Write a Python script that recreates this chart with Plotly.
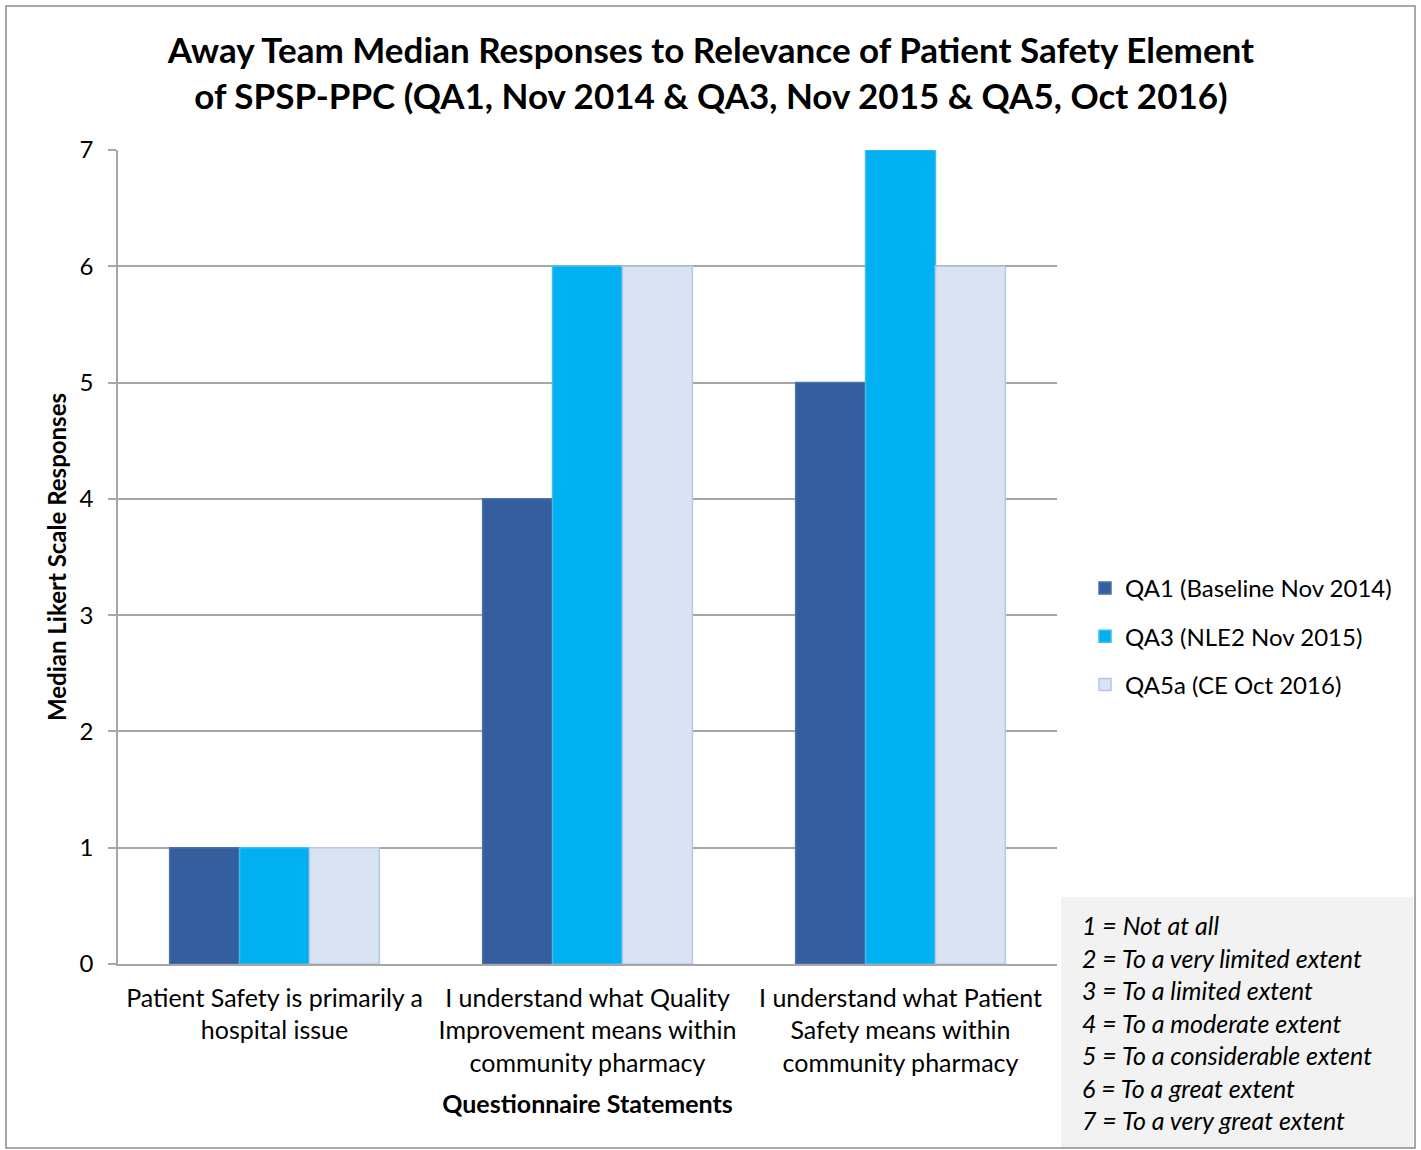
import plotly.graph_objects as go

categories = [
    "Patient Safety is primarily a<br>hospital issue",
    "I understand what Quality<br>Improvement means within<br>community pharmacy",
    "I understand what Patient<br>Safety means within<br>community pharmacy",
]
series_names = ["QA1 (Baseline Nov 2014)", "QA3 (NLE2 Nov 2015)", "QA5a (CE Oct 2016)"]
qa1 = [1, 4, 5]
qa3 = [1, 6, 7]
qa5a = [1, 6, 6]
scale_labels = [
    "1 = Not at all",
    "2 = To a very limited extent",
    "3 = To a limited extent",
    "4 = To a moderate extent",
    "5 = To a considerable extent",
    "6 = To a great extent",
    "7 = To a very great extent",
]

W, H = 1421, 1150
L, R, T, B = 118, 1057, 150, 964
def px(x):
    return (x - L) / (R - L)
def py(y):
    return (B - y) / (B - T)

FONT = "Lato, 'Open Sans', sans-serif"
fills = ["#355E9F", "#00B0F0", "#DAE3F3"]
lines = ["#4A70AE", "#3DBDEE", "#B4C7E7"]
values = [qa1, qa3, qa5a]

fig = go.Figure()
for i, (name, vals) in enumerate(zip(series_names, values)):
    fig.add_trace(go.Bar(
        x=categories, y=vals, name=name,
        marker=dict(color=fills[i], line=dict(color=lines[i], width=1.5)),
        legendgroup=str(i),
    ))

fig.update_layout(
    width=W, height=H,
    margin=dict(l=L, r=W - R, t=T, b=H - B, autoexpand=False),
    paper_bgcolor="white", plot_bgcolor="white",
    barmode="group", bargap=0.33, bargroupgap=0,
    font=dict(family=FONT, size=25, color="black"),
    title=dict(
        text="<b>Away Team Median Responses to Relevance of Patient Safety Element<br>of SPSP-PPC (QA1, Nov 2014 &amp; QA3, Nov 2015 &amp; QA5, Oct 2016)</b>",
        x=711 / W, xanchor="center", xref="container", y=1 - 63 / H, yanchor="middle", yref="container",
        font=dict(family=FONT, size=35, color="black"),
    ),
    legend=dict(
        x=px(1085), xanchor="left", y=py(566), yanchor="top",
        font=dict(family=FONT, size=24, color="black"),
        traceorder="grouped", tracegroupgap=14, bgcolor="rgba(0,0,0,0)",
        itemwidth=30,
    ),
    xaxis=dict(
        showline=True, linecolor="#A6A6A6", linewidth=1.5,
        ticks="", tickfont=dict(size=25), ticklabelstandoff=11,
        title=dict(text="<b>Questionnaire Statements</b>", font=dict(size=25), standoff=20),
    ),
    yaxis=dict(
        range=[0, 7], dtick=1, showgrid=True, gridcolor="#A6A6A6", gridwidth=1.5,
        showline=True, linecolor="#A6A6A6", linewidth=1.5,
        ticks="outside", ticklen=8, tickcolor="#A6A6A6", tickwidth=1.5,
        tickfont=dict(size=24), zeroline=False, ticklabelstandoff=10,
        title=dict(text="<b>Median Likert Scale Responses</b>", font=dict(size=24), standoff=6),
    ),
)

# scale explanation box
fig.add_shape(type="rect", xref="paper", yref="paper",
              x0=px(1061), x1=px(1413), y0=py(897), y1=py(1148),
              fillcolor="#F2F2F2", line=dict(width=0), layer="below")
fig.add_annotation(
    xref="paper", yref="paper", x=px(1080), y=py(908), xanchor="left", yanchor="top",
    text="<br>".join(f"<i>{s}</i>" for s in scale_labels), align="left", showarrow=False,
    font=dict(family=FONT, size=25, color="black"),
)
# outer border
fig.add_shape(type="rect", xref="paper", yref="paper",
              x0=px(6), x1=px(1415), y0=py(6), y1=py(1148),
              line=dict(color="#8C8C8C", width=1.5), fillcolor="rgba(0,0,0,0)")

fig.write_html("out.html")
